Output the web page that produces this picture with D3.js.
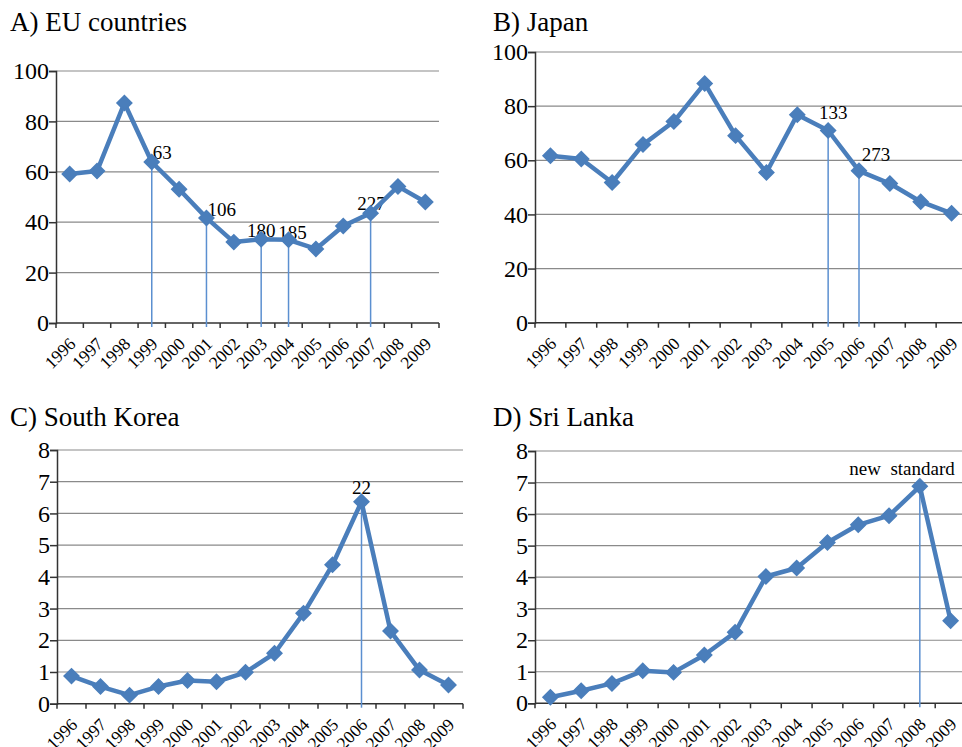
<!DOCTYPE html>
<html>
<head>
<meta charset="utf-8">
<script src="https://cdn.jsdelivr.net/npm/d3@7"></script>
<style>
  body { margin: 0; background: #fff; }
</style>
</head>
<body>
<div id="chart"></div>
<script>
// the data
const years = [1996, 1997, 1998, 1999, 2000, 2001, 2002, 2003, 2004, 2005, 2006, 2007, 2008, 2009];

const euValues = [59.1, 60.3, 87.3, 63.9, 53.1, 41.7, 32.1, 33.2, 33.0, 29.4, 38.5, 43.6, 54.2, 48.0];
const japanValues = [61.7, 60.5, 51.8, 65.8, 74.3, 88.4, 69.1, 55.5, 76.8, 71.0, 56.1, 51.4, 44.7, 40.4];
const koreaValues = [0.87, 0.54, 0.27, 0.54, 0.73, 0.69, 0.99, 1.59, 2.85, 4.38, 6.37, 2.29, 1.06, 0.59];
const sriLankaValues = [0.19, 0.40, 0.63, 1.03, 0.98, 1.53, 2.25, 4.02, 4.29, 5.10, 5.66, 5.95, 6.88, 2.62];

const euTicks = [0, 20, 40, 60, 80, 100];
const japanTicks = [0, 20, 40, 60, 80, 100];
const koreaTicks = [0, 1, 2, 3, 4, 5, 6, 7, 8];
const sriLankaTicks = [0, 1, 2, 3, 4, 5, 6, 7, 8];

// the little numbers + drop lines
const euNoteYears = [1999, 2001, 2003, 2004, 2007];
const euNoteTexts = ["63", "106", "180", "185", "227"];
const japanNoteYears = [2005, 2006];
const japanNoteTexts = ["133", "273"];
const koreaNoteYears = [2006];
const koreaNoteTexts = ["22"];
const sriLankaNoteYears = [2008];
const sriLankaNoteTexts = ["new  standard"];

const W = 962, H = 747;
const blue = "#4a7ebb";
const serif = "'Liberation Serif', 'Times New Roman', serif";

const svg = d3.select("#chart").append("svg")
  .attr("width", W)
  .attr("height", H);

// one panel
function drawPanel(p) {
  const g = svg.append("g");

  const x = d3.scaleBand().domain(years).range([p.left, p.right]).padding(0);
  const y = d3.scaleLinear().domain([0, p.ticks[p.ticks.length - 1]]).range([p.bottom, p.top]);
  const cx = d => x(d) + x.bandwidth() / 2;

  // title
  g.append("text")
    .attr("x", p.titleX)
    .attr("y", p.titleY)
    .style("font-family", serif)
    .style("font-size", "27px")
    .attr("fill", "#000")
    .text(p.title);

  // gridlines
  g.append("g")
    .selectAll("line")
    .data(p.ticks.filter(t => t > 0))
    .enter().append("line")
    .attr("x1", p.left).attr("x2", p.right)
    .attr("y1", d => y(d)).attr("y2", d => y(d))
    .attr("stroke", "#8a8a8a")
    .attr("stroke-width", 1.2);

  // y axis
  const yAxis = d3.axisLeft(y).tickValues(p.ticks).tickSize(7).tickPadding(0).tickFormat(d3.format("d"));
  const ya = g.append("g")
    .attr("transform", "translate(" + p.left + ",0)")
    .call(yAxis);
  ya.select(".domain").attr("stroke", "#333").attr("stroke-width", 1.5);
  ya.selectAll(".tick line").attr("stroke", "#333").attr("stroke-width", 1.5);
  ya.selectAll(".tick text")
    .style("font-family", serif)
    .style("font-size", "24px")
    .attr("fill", "#000");

  // x axis line + tick marks at band edges
  g.append("line")
    .attr("x1", p.left).attr("x2", p.right)
    .attr("y1", y(0)).attr("y2", y(0))
    .attr("stroke", "#333").attr("stroke-width", 1.5);

  const edges = years.map(d => x(d)).concat([x(years[years.length - 1]) + x.bandwidth()]);
  g.append("g")
    .selectAll("line")
    .data(edges)
    .enter().append("line")
    .attr("x1", d => d).attr("x2", d => d)
    .attr("y1", y(0)).attr("y2", y(0) + 5)
    .attr("stroke", "#333").attr("stroke-width", 1.5);

  // rotated year labels
  g.append("g")
    .selectAll("text")
    .data(years)
    .enter().append("text")
    .attr("transform", d => "translate(" + (cx(d) + 7) + "," + (y(0) + 22) + ") rotate(-45)")
    .attr("text-anchor", "end")
    .style("font-family", serif)
    .style("font-size", "17.5px")
    .attr("fill", "#000")
    .text(d => d);

  // notes (drawn under the line, like in the original)
  const notes = p.noteYears.map((yr, i) => ({ year: yr, text: p.noteTexts[i], v: p.values[years.indexOf(yr)], off: p.noteOffsets[i] }));

  g.append("g")
    .selectAll("line")
    .data(notes)
    .enter().append("line")
    .attr("x1", d => cx(d.year)).attr("x2", d => cx(d.year))
    .attr("y1", d => y(d.v)).attr("y2", y(0) + 4)
    .attr("stroke", "#5b8fd0")
    .attr("stroke-width", 1.5);

  g.append("g")
    .selectAll("text")
    .data(notes)
    .enter().append("text")
    .attr("x", d => cx(d.year) + d.off[0])
    .attr("y", d => y(d.v) + d.off[1])
    .attr("text-anchor", d => d.off[2])
    .style("font-family", serif)
    .style("font-size", "19px")
    .style("white-space", "pre")
    .attr("fill", "#000")
    .text(d => d.text);

  // the series line
  const line = d3.line()
    .x((d, i) => cx(years[i]))
    .y(d => y(d));

  g.append("path")
    .datum(p.values)
    .attr("d", line)
    .attr("fill", "none")
    .attr("stroke", blue)
    .attr("stroke-width", 4.5)
    .attr("stroke-linejoin", "round");

  // diamond markers
  g.append("g")
    .selectAll("path")
    .data(p.values)
    .enter().append("path")
    .attr("d", d3.symbol().type(d3.symbolSquare).size(110))
    .attr("transform", (d, i) => "translate(" + cx(years[i]) + "," + y(d) + ") rotate(45)")
    .attr("fill", blue)
    .attr("stroke", blue)
    .attr("stroke-width", 1.5);
}

drawPanel({
  title: "A) EU countries", titleX: 10, titleY: 31,
  left: 56, right: 439, top: 71, bottom: 323,
  values: euValues, ticks: euTicks,
  noteYears: euNoteYears, noteTexts: euNoteTexts,
  noteOffsets: [[1, -3, "start"], [1, -2, "start"], [0, -2, "middle"], [4, -1, "middle"], [1, -3, "middle"]]
});

drawPanel({
  title: "B) Japan", titleX: 493, titleY: 31,
  left: 535, right: 967, top: 52, bottom: 322.7,
  values: japanValues, ticks: japanTicks,
  noteYears: japanNoteYears, noteTexts: japanNoteTexts,
  noteOffsets: [[5, -12, "middle"], [17, -10, "middle"]]
});

drawPanel({
  title: "C) South Korea", titleX: 10, titleY: 426,
  left: 57, right: 463, top: 450, bottom: 703.7,
  values: koreaValues, ticks: koreaTicks,
  noteYears: koreaNoteYears, noteTexts: koreaNoteTexts,
  noteOffsets: [[0, -8, "middle"]]
});

drawPanel({
  title: "D) Sri Lanka", titleX: 493, titleY: 426,
  left: 535, right: 966, top: 451, bottom: 703.3,
  values: sriLankaValues, ticks: sriLankaTicks,
  noteYears: sriLankaNoteYears, noteTexts: sriLankaNoteTexts,
  noteOffsets: [[35, -11, "end"]]
});
</script>
</body>
</html>
